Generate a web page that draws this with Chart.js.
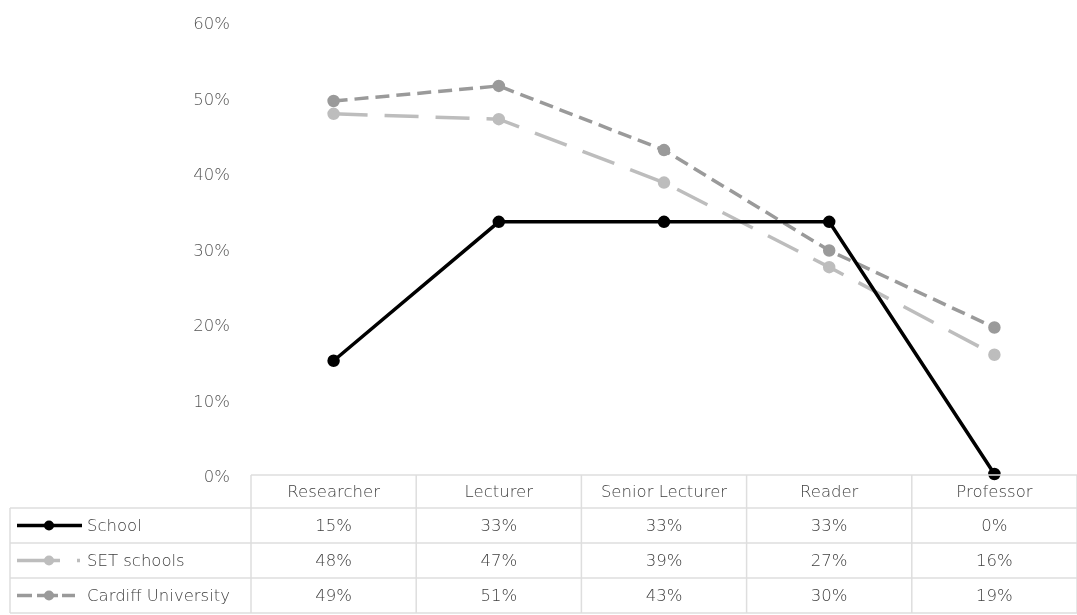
<!DOCTYPE html>
<html>
<head>
<meta charset="utf-8">
<script src="https://cdn.jsdelivr.net/npm/chart.js@4"></script>
<style>
html,body{margin:0;padding:0;background:#fff;}
#wrap{width:1077px;height:615px;position:relative;}
</style>
</head>
<body>
<div id="wrap"><canvas id="c" width="1077" height="615"></canvas></div>
<script>
const categories = ['Researcher', 'Lecturer', 'Senior Lecturer', 'Reader', 'Professor'];
const seriesNames = ['School', 'SET schools', 'Cardiff University'];
// values (table shows them rounded)
const schoolValues = [15.0, 33.4, 33.4, 33.4, 0];
const setValues = [47.7, 47.0, 38.6, 27.4, 15.8];
const cardiffValues = [49.4, 51.4, 42.9, 29.6, 19.4];
const yTickValues = [0, 10, 20, 30, 40, 50, 60];

const FONT = '"DejaVu Sans", sans-serif';
const FONT_SIZE = 16.5;
const FONT_WEIGHT = 200;
const TEXT = '#404040';
const BORDER = '#dedede';

const tablePlugin = {
  id: 'dataTable',
  afterDraw(chart) {
    const ctx = chart.ctx;
    const xs = chart.scales.x;
    const area = chart.chartArea;
    const n = categories.length;
    const band = (area.right - area.left) / n;
    const top = area.bottom + 1;
    const headerH = 33;
    const rowH = 35;
    const leftX = 10;
    ctx.save();
    ctx.strokeStyle = BORDER;
    ctx.lineWidth = 1.5;
    ctx.beginPath();
    ctx.moveTo(area.left, top);
    ctx.lineTo(area.right, top);
    for (let i = 0; i <= n; i++) {
      const x = area.left + i * band;
      ctx.moveTo(x, top);
      ctx.lineTo(x, top + headerH + rowH * 3);
    }
    for (let r = 0; r <= 3; r++) {
      const y = top + headerH + r * rowH;
      ctx.moveTo(leftX, y);
      ctx.lineTo(area.right, y);
    }
    ctx.moveTo(leftX, top + headerH);
    ctx.lineTo(leftX, top + headerH + rowH * 3);
    ctx.stroke();

    ctx.fillStyle = TEXT;
    ctx.font = FONT_WEIGHT + ' ' + FONT_SIZE + 'px ' + FONT;
    ctx.textAlign = 'center';
    ctx.textBaseline = 'middle';
    categories.forEach((c, i) => {
      const x = xs.getPixelForValue(i);
      ctx.fillText(c, x, top + headerH / 2 + 1);
    });
    const dsList = chart.data.datasets;
    dsList.forEach((ds, r) => {
      const yMid = top + headerH + r * rowH + rowH / 2 + 1;
      ds.data.forEach((v, i) => {
        const x = xs.getPixelForValue(i);
        ctx.fillText(Math.round(v) + '%', x, yMid);
      });
      ctx.save();
      ctx.strokeStyle = ds.borderColor;
      ctx.lineWidth = ds.borderWidth;
      ctx.setLineDash(ds.keyDash || []);
      ctx.beginPath();
      ctx.moveTo(17, yMid - 1);
      ctx.lineTo(82, yMid - 1);
      ctx.stroke();
      ctx.setLineDash([]);
      ctx.fillStyle = ds.pointBackgroundColor;
      ctx.beginPath();
      ctx.arc(49, yMid - 1, 5, 0, Math.PI * 2);
      ctx.fill();
      ctx.restore();
      ctx.fillStyle = TEXT;
      ctx.textAlign = 'left';
      ctx.fillText(ds.label, 87, yMid);
      ctx.textAlign = 'center';
    });
    ctx.restore();
  }
};

new Chart(document.getElementById('c'), {
  type: 'line',
  data: {
    labels: categories,
    datasets: [
      {
        label: seriesNames[0], data: schoolValues,
        borderColor: '#000000', pointBackgroundColor: '#000000', pointBorderColor: '#000000',
        borderWidth: 3.5, pointRadius: 4.5, pointHoverRadius: 4.5, clip: false,
        keyDash: []
      },
      {
        label: seriesNames[1], data: setValues,
        borderColor: '#bdbdbd', pointBackgroundColor: '#bdbdbd', pointBorderColor: '#bdbdbd',
        borderWidth: 3.5, borderDash: [34, 17], pointRadius: 4.5, pointHoverRadius: 4.5, clip: false,
        keyDash: [43, 17, 3, 100]
      },
      {
        label: seriesNames[2], data: cardiffValues,
        borderColor: '#9a9a9a', pointBackgroundColor: '#9a9a9a', pointBorderColor: '#9a9a9a',
        borderWidth: 3.5, borderDash: [14, 7], pointRadius: 4.5, pointHoverRadius: 4.5, clip: false,
        keyDash: [15, 5, 21, 4, 13, 100]
      }
    ]
  },
  options: {
    responsive: false,
    animation: false,
    devicePixelRatio: 1,
    layout: { autoPadding: false, padding: { top: 21, bottom: 141, left: 0, right: 0 } },
    plugins: { legend: { display: false }, tooltip: { enabled: false } },
    scales: {
      x: { type: 'category', display: false, offset: true },
      y: {
        min: 0, max: 60,
        afterFit(scale) { scale.width = 251; scale.paddingTop = 0; scale.paddingBottom = 0; },
        afterBuildTicks(scale) { scale.ticks = yTickValues.map(v => ({ value: v })); },
        grid: { display: false, drawTicks: false },
        border: { display: false },
        ticks: {
          color: '#555555', padding: 21, labelOffset: 4,
          font: { family: FONT, size: FONT_SIZE, weight: FONT_WEIGHT },
          callback: v => v + '%'
        }
      }
    }
  },
  plugins: [tablePlugin]
});
</script>
</body>
</html>
